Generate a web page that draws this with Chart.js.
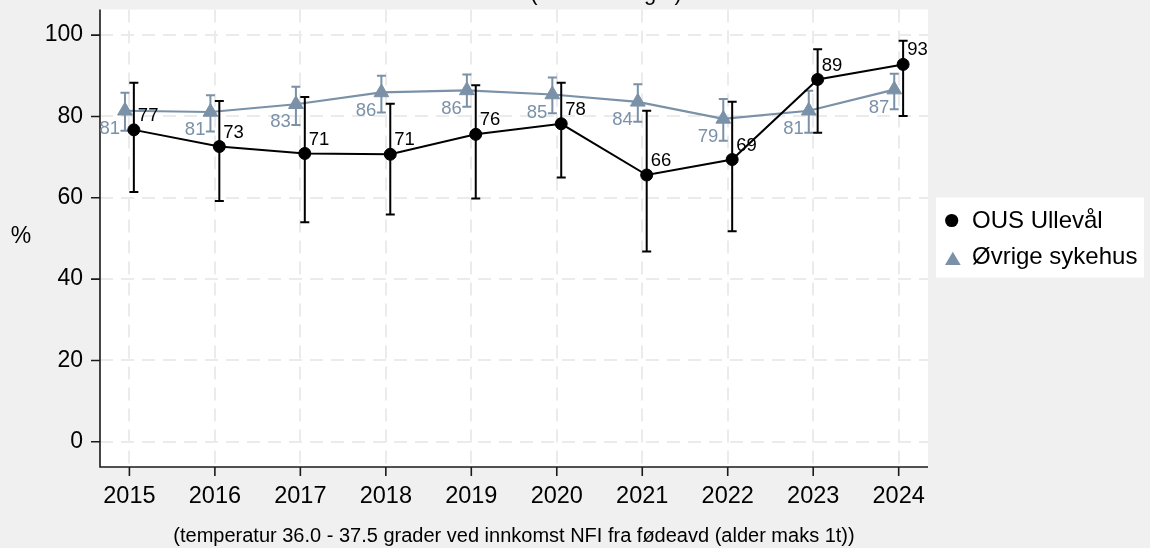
<!DOCTYPE html>
<html>
<head>
<meta charset="utf-8">
<script src="https://cdn.jsdelivr.net/npm/chart.js@4.4.1/dist/chart.umd.min.js"></script>
<style>
  html, body { margin: 0; padding: 0; background: #f0f0f0; }
  #wrap { width: 1150px; height: 548px; }
</style>
</head>
<body>
<div id="wrap"><canvas id="chart" width="1150" height="548"></canvas></div>
<script>
// Years on the x axis
const years = [2015, 2016, 2017, 2018, 2019, 2020, 2021, 2022, 2023, 2024];

// OUS Ullevål: share (%) with 95 % confidence limits
const ousValues = [76.7, 72.6, 70.9, 70.7, 75.6, 78.2, 65.6, 69.4, 89.1, 92.8];
const ousLower  = [61.4, 59.2, 54.0, 55.9, 59.8, 65.0, 46.8, 51.8, 76.0, 80.1];
const ousUpper  = [88.3, 83.8, 84.8, 83.1, 87.7, 88.3, 81.4, 83.6, 96.5, 98.6];

// Øvrige sykehus: share (%) with 95 % confidence limits
const otherValues = [81.4, 81.1, 83.0, 85.9, 86.4, 85.4, 83.6, 79.4, 81.4, 86.6];
const otherLower  = [76.5, 76.3, 77.9, 81.0, 82.4, 80.8, 78.7, 74.0, 76.0, 81.8];
const otherUpper  = [85.8, 85.2, 87.3, 90.0, 90.3, 89.6, 87.9, 84.3, 86.3, 90.5];

// Y axis tick labels
const yTicks = [0, 20, 40, 60, 80, 100];

const seriesLabels = ['OUS Ullevål', 'Øvrige sykehus'];
const titleText = '(andel innlagte)';
const yAxisTitle = '%';
const noteText = '(temperatur 36.0 - 37.5 grader ved innkomst NFI fra fødeavd (alder maks 1t))';

const FONT = '"Liberation Sans", Arial, Helvetica, sans-serif';
const GREY = '#7a91a8';
const DODGE = 0.052; // small horizontal shift so the two series don't overlap

const bounds = [
  { lo: ousLower, hi: ousUpper, color: '#000000', shift: DODGE },
  { lo: otherLower, hi: otherUpper, color: GREY, shift: -DODGE }
];

// Plot area background, axis lines and tick marks
const framePlugin = {
  id: 'frame',
  beforeDraw(chart) {
    const { ctx, chartArea: a } = chart;
    ctx.save();
    ctx.fillStyle = '#ffffff';
    ctx.fillRect(a.left, a.top, a.right - a.left, a.bottom - a.top);
    ctx.restore();
  },
  beforeDatasetsDraw(chart) {
    const { ctx, chartArea: a, scales } = chart;
    ctx.save();
    ctx.strokeStyle = '#1a1a1a';
    ctx.lineWidth = 1.6;
    ctx.beginPath();
    ctx.moveTo(a.left, a.top);
    ctx.lineTo(a.left, a.bottom);
    ctx.lineTo(a.right, a.bottom);
    for (const v of yTicks) {
      const y = scales.y.getPixelForValue(v);
      ctx.moveTo(a.left, y);
      ctx.lineTo(a.left - 9, y);
    }
    for (const v of years) {
      const x = scales.x.getPixelForValue(v);
      ctx.moveTo(x, a.bottom);
      ctx.lineTo(x, a.bottom + 9);
    }
    ctx.stroke();
    ctx.restore();
  }
};

// Confidence-interval whiskers, drawn just before each series
const errorBarPlugin = {
  id: 'errorBars',
  beforeDatasetDraw(chart, args) {
    const b = bounds[args.index];
    if (!b) return;
    const { ctx, scales } = chart;
    ctx.save();
    ctx.strokeStyle = b.color;
    ctx.lineWidth = 2;
    ctx.beginPath();
    years.forEach((yr, i) => {
      const x = scales.x.getPixelForValue(yr + b.shift);
      const y1 = scales.y.getPixelForValue(b.lo[i]);
      const y2 = scales.y.getPixelForValue(b.hi[i]);
      ctx.moveTo(x, y1); ctx.lineTo(x, y2);
      ctx.moveTo(x - 4.5, y1); ctx.lineTo(x + 4.5, y1);
      ctx.moveTo(x - 4.5, y2); ctx.lineTo(x + 4.5, y2);
    });
    ctx.stroke();
    ctx.restore();
  }
};

// Value labels, legend, titles and note
const textPlugin = {
  id: 'texts',
  afterDatasetsDraw(chart) {
    const { ctx } = chart;
    ctx.save();
    ctx.font = '18.5px ' + FONT;
    ctx.textBaseline = 'middle';
    chart.data.datasets.forEach((ds, di) => {
      const meta = chart.getDatasetMeta(di);
      meta.data.forEach((pt, i) => {
        const txt = String(Math.round(ds.data[i].y));
        if (di === 0) {
          ctx.fillStyle = '#000000';
          ctx.textAlign = 'left';
          ctx.fillText(txt, pt.x + 4, pt.y - 14);
        } else {
          ctx.fillStyle = GREY;
          ctx.textAlign = 'right';
          ctx.fillText(txt, pt.x - 5, pt.y + 18);
        }
      });
    });
    ctx.restore();
  },
  afterDraw(chart) {
    const { ctx, chartArea: a } = chart;
    ctx.save();
    // title (runs off the top edge)
    ctx.fillStyle = '#000000';
    ctx.font = '22px ' + FONT;
    ctx.textAlign = 'center';
    ctx.textBaseline = 'alphabetic';
    ctx.fillText(titleText, 606, 0);

    // y axis title
    ctx.font = '23px ' + FONT;
    ctx.textBaseline = 'middle';
    ctx.fillText(yAxisTitle, 21, 237);

    // note under the x axis
    ctx.font = '20px ' + FONT;
    ctx.fillText(noteText, (a.left + a.right) / 2, 536);

    // legend
    ctx.fillStyle = '#ffffff';
    ctx.fillRect(936, 197.5, 208, 80);
    const ds = chart.data.datasets;
    ctx.font = '24px ' + FONT;
    ctx.textAlign = 'left';
    // circle
    ctx.fillStyle = ds[0].backgroundColor;
    ctx.beginPath();
    ctx.arc(951.7, 220.5, 6.6, 0, Math.PI * 2);
    ctx.fill();
    ctx.fillStyle = '#000000';
    ctx.fillText(ds[0].label, 972, 221);
    // triangle
    ctx.fillStyle = ds[1].backgroundColor;
    ctx.beginPath();
    ctx.moveTo(952.8, 251.7);
    ctx.lineTo(960.7, 265);
    ctx.lineTo(945, 265);
    ctx.closePath();
    ctx.fill();
    ctx.fillStyle = '#000000';
    ctx.fillText(ds[1].label, 972, 257.5);
    ctx.restore();
  }
};

const ctx = document.getElementById('chart').getContext('2d');
new Chart(ctx, {
  type: 'line',
  data: {
    datasets: [
      {
        label: seriesLabels[0],
        data: years.map((yr, i) => ({ x: yr + DODGE, y: ousValues[i] })),
        borderColor: '#000000',
        backgroundColor: '#000000',
        borderWidth: 2,
        pointStyle: 'circle',
        pointRadius: 6,
        pointBorderWidth: 1,
        pointBackgroundColor: '#000000',
        pointBorderColor: '#000000',
        tension: 0
      },
      {
        label: seriesLabels[1],
        data: years.map((yr, i) => ({ x: yr - DODGE, y: otherValues[i] })),
        borderColor: GREY,
        backgroundColor: GREY,
        borderWidth: 2.2,
        pointStyle: 'triangle',
        pointRadius: 8.5,
        pointBorderWidth: 1,
        pointBackgroundColor: GREY,
        pointBorderColor: GREY,
        tension: 0
      }
    ]
  },
  options: {
    responsive: false,
    animation: false,
    devicePixelRatio: 1,
    layout: { padding: { left: 0, top: 7, right: 222, bottom: 0 } },
    plugins: { legend: { display: false }, tooltip: { enabled: false } },
    scales: {
      x: {
        type: 'linear',
        min: 2014.656,
        max: 2024.343,
        afterBuildTicks: (axis) => { axis.ticks = years.map(v => ({ value: v })); },
        afterFit: (axis) => {
          axis.height = 81;
          axis.paddingLeft = 0; axis.paddingRight = 0;
          axis.paddingTop = 0; axis.paddingBottom = 0;
        },
        ticks: {
          font: { family: FONT, size: 23.5 },
          color: '#000000',
          padding: 15,
          autoSkip: false,
          maxRotation: 0,
          callback: (v) => String(v)
        },
        grid: { color: '#ebebeb', lineWidth: 2, drawTicks: false },
        border: { display: false, dash: [13, 8] }
      },
      y: {
        type: 'linear',
        min: -6.2,
        max: 106.3,
        afterBuildTicks: (axis) => { axis.ticks = yTicks.map(v => ({ value: v })); },
        afterFit: (axis) => {
          axis.width = 100;
          axis.paddingLeft = 0; axis.paddingRight = 0;
          axis.paddingTop = 0; axis.paddingBottom = 0;
        },
        ticks: {
          font: { family: FONT, size: 23 },
          color: '#000000',
          padding: 17,
          callback: (v) => String(v)
        },
        grid: { color: '#ebebeb', lineWidth: 2, drawTicks: false },
        border: { display: false, dash: [13, 8] }
      }
    }
  },
  plugins: [framePlugin, errorBarPlugin, textPlugin]
});
</script>
</body>
</html>
